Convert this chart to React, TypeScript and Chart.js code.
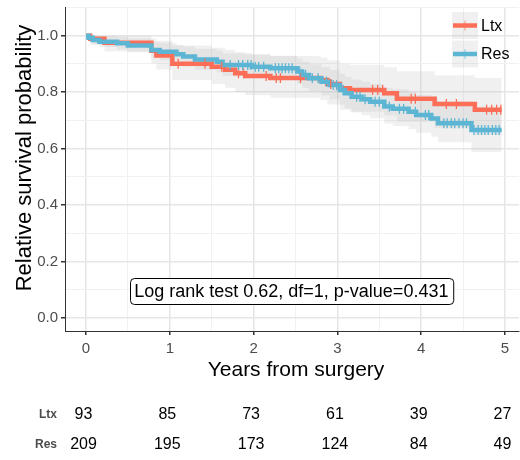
import React, { useEffect, useRef } from "react";
import { Chart, registerables } from "chart.js";

Chart.register(...registerables);

// ---------- data ----------
const seriesNames = ["Ltx", "Res"];
const seriesColors = ["#FC6E57", "#5DB5D4"];

const ltxTimes = [0, 0.05, 0.22, 0.78, 0.84, 1.03, 1.5, 1.66, 1.78, 1.9, 2.2, 2.8, 2.88, 3.03, 3.15, 3.56, 3.71, 4.16, 4.64, 4.96];
const ltxSurv = [1.0, 0.989, 0.975, 0.947, 0.93, 0.901, 0.89, 0.879, 0.867, 0.857, 0.85, 0.843, 0.829, 0.814, 0.808, 0.796, 0.777, 0.758, 0.738, 0.738];
const ltxUpper = [1.0, 1.0, 1.0, 0.99, 0.982, 0.965, 0.957, 0.95, 0.941, 0.934, 0.928, 0.923, 0.913, 0.902, 0.897, 0.888, 0.874, 0.86, 0.85, 0.85];
const ltxLower = [1.0, 0.968, 0.944, 0.902, 0.88, 0.843, 0.829, 0.816, 0.801, 0.789, 0.78, 0.772, 0.756, 0.738, 0.731, 0.717, 0.695, 0.672, 0.648, 0.648];
const ltxCensor = [1.1, 1.42, 1.62, 1.82, 1.88, 2.15, 2.27, 2.32, 2.56, 2.92, 3.42, 3.48, 3.54, 3.88, 3.93, 4.3, 4.42, 4.78, 4.84, 4.9, 4.95];

const resTimes = [0, 0.03, 0.08, 0.16, 0.37, 0.5, 0.78, 0.88, 1.08, 1.16, 1.3, 1.56, 1.63, 1.98, 2.2, 2.52, 2.58, 2.66, 2.81, 2.91, 3.03, 3.09, 3.17, 3.29, 3.39, 3.56, 3.66, 3.85, 3.94, 4.12, 4.2, 4.6, 4.96];
const resSurv = [1.0, 0.993, 0.985, 0.979, 0.973, 0.965, 0.949, 0.943, 0.934, 0.926, 0.916, 0.908, 0.896, 0.89, 0.885, 0.873, 0.861, 0.849, 0.837, 0.825, 0.808, 0.796, 0.784, 0.775, 0.766, 0.749, 0.741, 0.731, 0.719, 0.707, 0.69, 0.666, 0.666];
const resUpper = [1.0, 1.0, 1.0, 0.998, 0.995, 0.99, 0.979, 0.975, 0.968, 0.962, 0.954, 0.948, 0.938, 0.933, 0.929, 0.919, 0.909, 0.899, 0.889, 0.879, 0.865, 0.855, 0.845, 0.838, 0.83, 0.816, 0.81, 0.801, 0.791, 0.781, 0.767, 0.748, 0.748];
const resLower = [1.0, 0.982, 0.969, 0.96, 0.951, 0.941, 0.92, 0.912, 0.901, 0.891, 0.879, 0.87, 0.856, 0.849, 0.843, 0.829, 0.815, 0.802, 0.788, 0.775, 0.755, 0.742, 0.728, 0.718, 0.708, 0.689, 0.68, 0.669, 0.656, 0.642, 0.623, 0.588, 0.588];
const resCensor = [1.72, 1.82, 1.87, 1.93, 1.97, 2.02, 2.06, 2.12, 2.26, 2.3, 2.34, 2.38, 2.42, 2.46, 2.55, 2.62, 2.7, 2.77, 2.87, 2.95, 2.99, 3.07, 3.23, 3.27, 3.33, 3.45, 3.5, 3.62, 3.74, 3.79, 3.93, 4.05, 4.09, 4.27, 4.31, 4.36, 4.4, 4.45, 4.5, 4.54, 4.63, 4.68, 4.72, 4.76, 4.8, 4.85, 4.89, 4.93];

const riskTimes = [0, 1, 2, 3, 4, 5];
const ltxRisk = [93, 85, 73, 61, 39, 27];
const resRisk = [209, 195, 173, 124, 84, 49];

const xTitle = "Years from surgery";
const yTitle = "Relative survival probability";
const annotationText = "Log rank test 0.62, df=1, p-value=0.431";
const annotationX = 2.45;
const annotationY = 0.096;

// ---------- layout / style ----------
const FONT = "'Liberation Sans', Arial, Helvetica, sans-serif";
const X_MIN = -0.2506;
const X_MAX = 5.167;
const Y_MIN = -0.046;
const Y_MAX = 1.1017;
const BAND_FILL = "rgba(180,180,180,0.2)";

const pts = (t: number[], v: number[]) => t.map((x, i) => ({ x, y: v[i] }));
const survAt = (times: number[], surv: number[], t: number) => {
  let k = 0;
  for (let i = 0; i < times.length; i++) if (times[i] <= t) k = i;
  return surv[k];
};

const isMajorX = (v: number) => Math.abs(v - Math.round(v)) < 1e-6;
const isMajorY = (v: number) => Math.abs(v * 5 - Math.round(v * 5)) < 1e-6;

const overlayPlugin = {
  id: "kmOverlay",
  afterDraw(chart: any) {
    const { ctx, chartArea, scales } = chart;
    const xs = scales.x;
    const ys = scales.y;
    ctx.save();

    // annotation box
    ctx.font = `18px ${FONT}`;
    const tw = ctx.measureText(annotationText).width;
    const cx = xs.getPixelForValue(annotationX);
    const cy = ys.getPixelForValue(annotationY);
    const bw = tw + 9;
    const bh = 26;
    const bx = Math.round(cx - bw / 2) + 0.5;
    const by = Math.round(cy - bh / 2) + 0.5;
    ctx.beginPath();
    ctx.roundRect(bx, by, bw, bh, 4);
    ctx.fillStyle = "#ffffff";
    ctx.fill();
    ctx.lineWidth = 1;
    ctx.strokeStyle = "#000000";
    ctx.stroke();
    ctx.fillStyle = "#000000";
    ctx.textAlign = "center";
    ctx.textBaseline = "middle";
    ctx.fillText(annotationText, cx, cy + 1);

    // legend
    const keyX = chartArea.right - 67;
    seriesNames.forEach((name, i) => {
      const ky = 12 + i * 28.5;
      ctx.fillStyle = BAND_FILL;
      ctx.fillRect(keyX, ky, 26, 27);
      const my = ky + 13.5;
      ctx.strokeStyle = seriesColors[i];
      ctx.lineWidth = 4.5;
      ctx.beginPath();
      ctx.moveTo(keyX + 1, my);
      ctx.lineTo(keyX + 25, my);
      ctx.stroke();
      ctx.lineWidth = 1.2;
      ctx.globalAlpha = 0.6;
      ctx.beginPath();
      ctx.moveTo(keyX + 13, my - 5);
      ctx.lineTo(keyX + 13, my + 5);
      ctx.stroke();
      ctx.globalAlpha = 1;
      ctx.fillStyle = "#000000";
      ctx.font = `16px ${FONT}`;
      ctx.textAlign = "left";
      ctx.textBaseline = "middle";
      ctx.fillText(name, keyX + 29, my + 1);
    });

    // axis titles
    ctx.fillStyle = "#000000";
    ctx.font = `21px ${FONT}`;
    ctx.textAlign = "center";
    ctx.textBaseline = "middle";
    ctx.fillText(xTitle, (chartArea.left + chartArea.right) / 2 + 4, 370);
    ctx.save();
    ctx.translate(25, 158);
    ctx.rotate(-Math.PI / 2);
    ctx.font = `22px ${FONT}`;
    ctx.fillText(yTitle, 0, 0);
    ctx.restore();

    // risk table
    const rows = [ltxRisk, resRisk];
    const rowY = [415, 445];
    rows.forEach((vals, r) => {
      ctx.font = `bold 12px ${FONT}`;
      ctx.fillStyle = "#4D4D4D";
      ctx.textAlign = "right";
      ctx.textBaseline = "middle";
      ctx.fillText(seriesNames[r], 57, rowY[r]);
      ctx.font = `16px ${FONT}`;
      ctx.fillStyle = "#000000";
      ctx.textAlign = "center";
      vals.forEach((v, i) => {
        ctx.fillText(String(v), xs.getPixelForValue(riskTimes[i]) - 2.5, rowY[r]);
      });
    });

    ctx.restore();
  },
};

export default function App() {
  const ref = useRef<HTMLCanvasElement | null>(null);

  useEffect(() => {
    if (!ref.current) return;
    const bandCommon = {
      type: "line" as const,
      stepped: "before" as const,
      borderWidth: 0,
      borderColor: "rgba(0,0,0,0)",
      pointRadius: 0,
      backgroundColor: BAND_FILL,
    };
    const curveCommon = {
      type: "line" as const,
      stepped: "before" as const,
      borderWidth: 4.5,
      pointRadius: 0,
      fill: false,
      borderCapStyle: "butt" as const,
      borderJoinStyle: "miter" as const,
    };
    const censorCommon = {
      type: "line" as const,
      showLine: false,
      pointStyle: "line" as const,
      rotation: 90,
      pointRadius: 5,
      pointBorderWidth: 1.3,
    };

    const chart = new Chart(ref.current, {
      type: "line",
      data: {
        datasets: [
          { ...bandCommon, label: "Ltx upper", data: pts(ltxTimes, ltxUpper), fill: "+1", order: 10 },
          { ...bandCommon, label: "Ltx lower", data: pts(ltxTimes, ltxLower), fill: false, order: 10 },
          { ...bandCommon, label: "Res upper", data: pts(resTimes, resUpper), fill: "+1", order: 9 },
          { ...bandCommon, label: "Res lower", data: pts(resTimes, resLower), fill: false, order: 9 },
          { ...curveCommon, label: seriesNames[0], data: pts(ltxTimes, ltxSurv), borderColor: seriesColors[0], order: 4 },
          { ...curveCommon, label: seriesNames[1], data: pts(resTimes, resSurv), borderColor: seriesColors[1], order: 3 },
          {
            ...censorCommon,
            label: "Ltx censor",
            data: ltxCensor.map((t) => ({ x: t, y: survAt(ltxTimes, ltxSurv, t) })),
            borderColor: seriesColors[0],
            pointBorderColor: seriesColors[0],
            order: 2,
          },
          {
            ...censorCommon,
            label: "Res censor",
            data: resCensor.map((t) => ({ x: t, y: survAt(resTimes, resSurv, t) })),
            borderColor: seriesColors[1],
            pointBorderColor: seriesColors[1],
            order: 1,
          },
        ] as any,
      },
      options: {
        animation: false,
        responsive: false,
        layout: { autoPadding: false, padding: { top: 7, right: 1, bottom: 78, left: 0 } },
        plugins: { legend: { display: false }, tooltip: { enabled: false } },
        scales: {
          x: {
            type: "linear",
            min: X_MIN,
            max: X_MAX,
            afterFit: (s: any) => {
              s.height = 51;
              s.paddingLeft = 0;
              s.paddingRight = 0;
            },
            ticks: {
              stepSize: 0.5,
              includeBounds: false,
              autoSkip: false,
              maxRotation: 0,
              padding: 5,
              color: "#4D4D4D",
              font: { family: FONT, size: 15 },
              callback: (v: any) => (isMajorX(Number(v)) ? String(Math.round(Number(v))) : ""),
            },
            grid: {
              color: (c: any) => (isMajorX(c.tick.value) ? "#E6E6E6" : "#F1F1F1"),
              lineWidth: (c: any) => (isMajorX(c.tick.value) ? 1.5 : 1),
              tickColor: (c: any) => (isMajorX(c.tick.value) ? "#333333" : "rgba(0,0,0,0)"),
              tickLength: 4,
            },
            border: { display: true, color: "#333333", width: 1 },
          },
          y: {
            type: "linear",
            min: Y_MIN,
            max: Y_MAX,
            afterFit: (s: any) => {
              s.width = 65;
              s.paddingTop = 0;
              s.paddingBottom = 0;
            },
            ticks: {
              stepSize: 0.1,
              includeBounds: false,
              autoSkip: false,
              padding: 3,
              color: "#4D4D4D",
              font: { family: FONT, size: 15 },
              callback: (v: any) => (isMajorY(Number(v)) ? Number(v).toFixed(1) : ""),
            },
            grid: {
              color: (c: any) => (isMajorY(c.tick.value) ? "#E6E6E6" : "#F1F1F1"),
              lineWidth: (c: any) => (isMajorY(c.tick.value) ? 1.5 : 1),
              tickColor: (c: any) => (isMajorY(c.tick.value) ? "#333333" : "rgba(0,0,0,0)"),
              tickLength: 4,
            },
            border: { display: true, color: "#333333", width: 1 },
          },
        },
      } as any,
      plugins: [overlayPlugin],
    });
    return () => chart.destroy();
  }, []);

  return (
    <div style={{ position: "absolute", left: 0, top: 0, width: 520, height: 460, background: "#ffffff" }}>
      <canvas ref={ref} width={520} height={460} />
    </div>
  );
}
